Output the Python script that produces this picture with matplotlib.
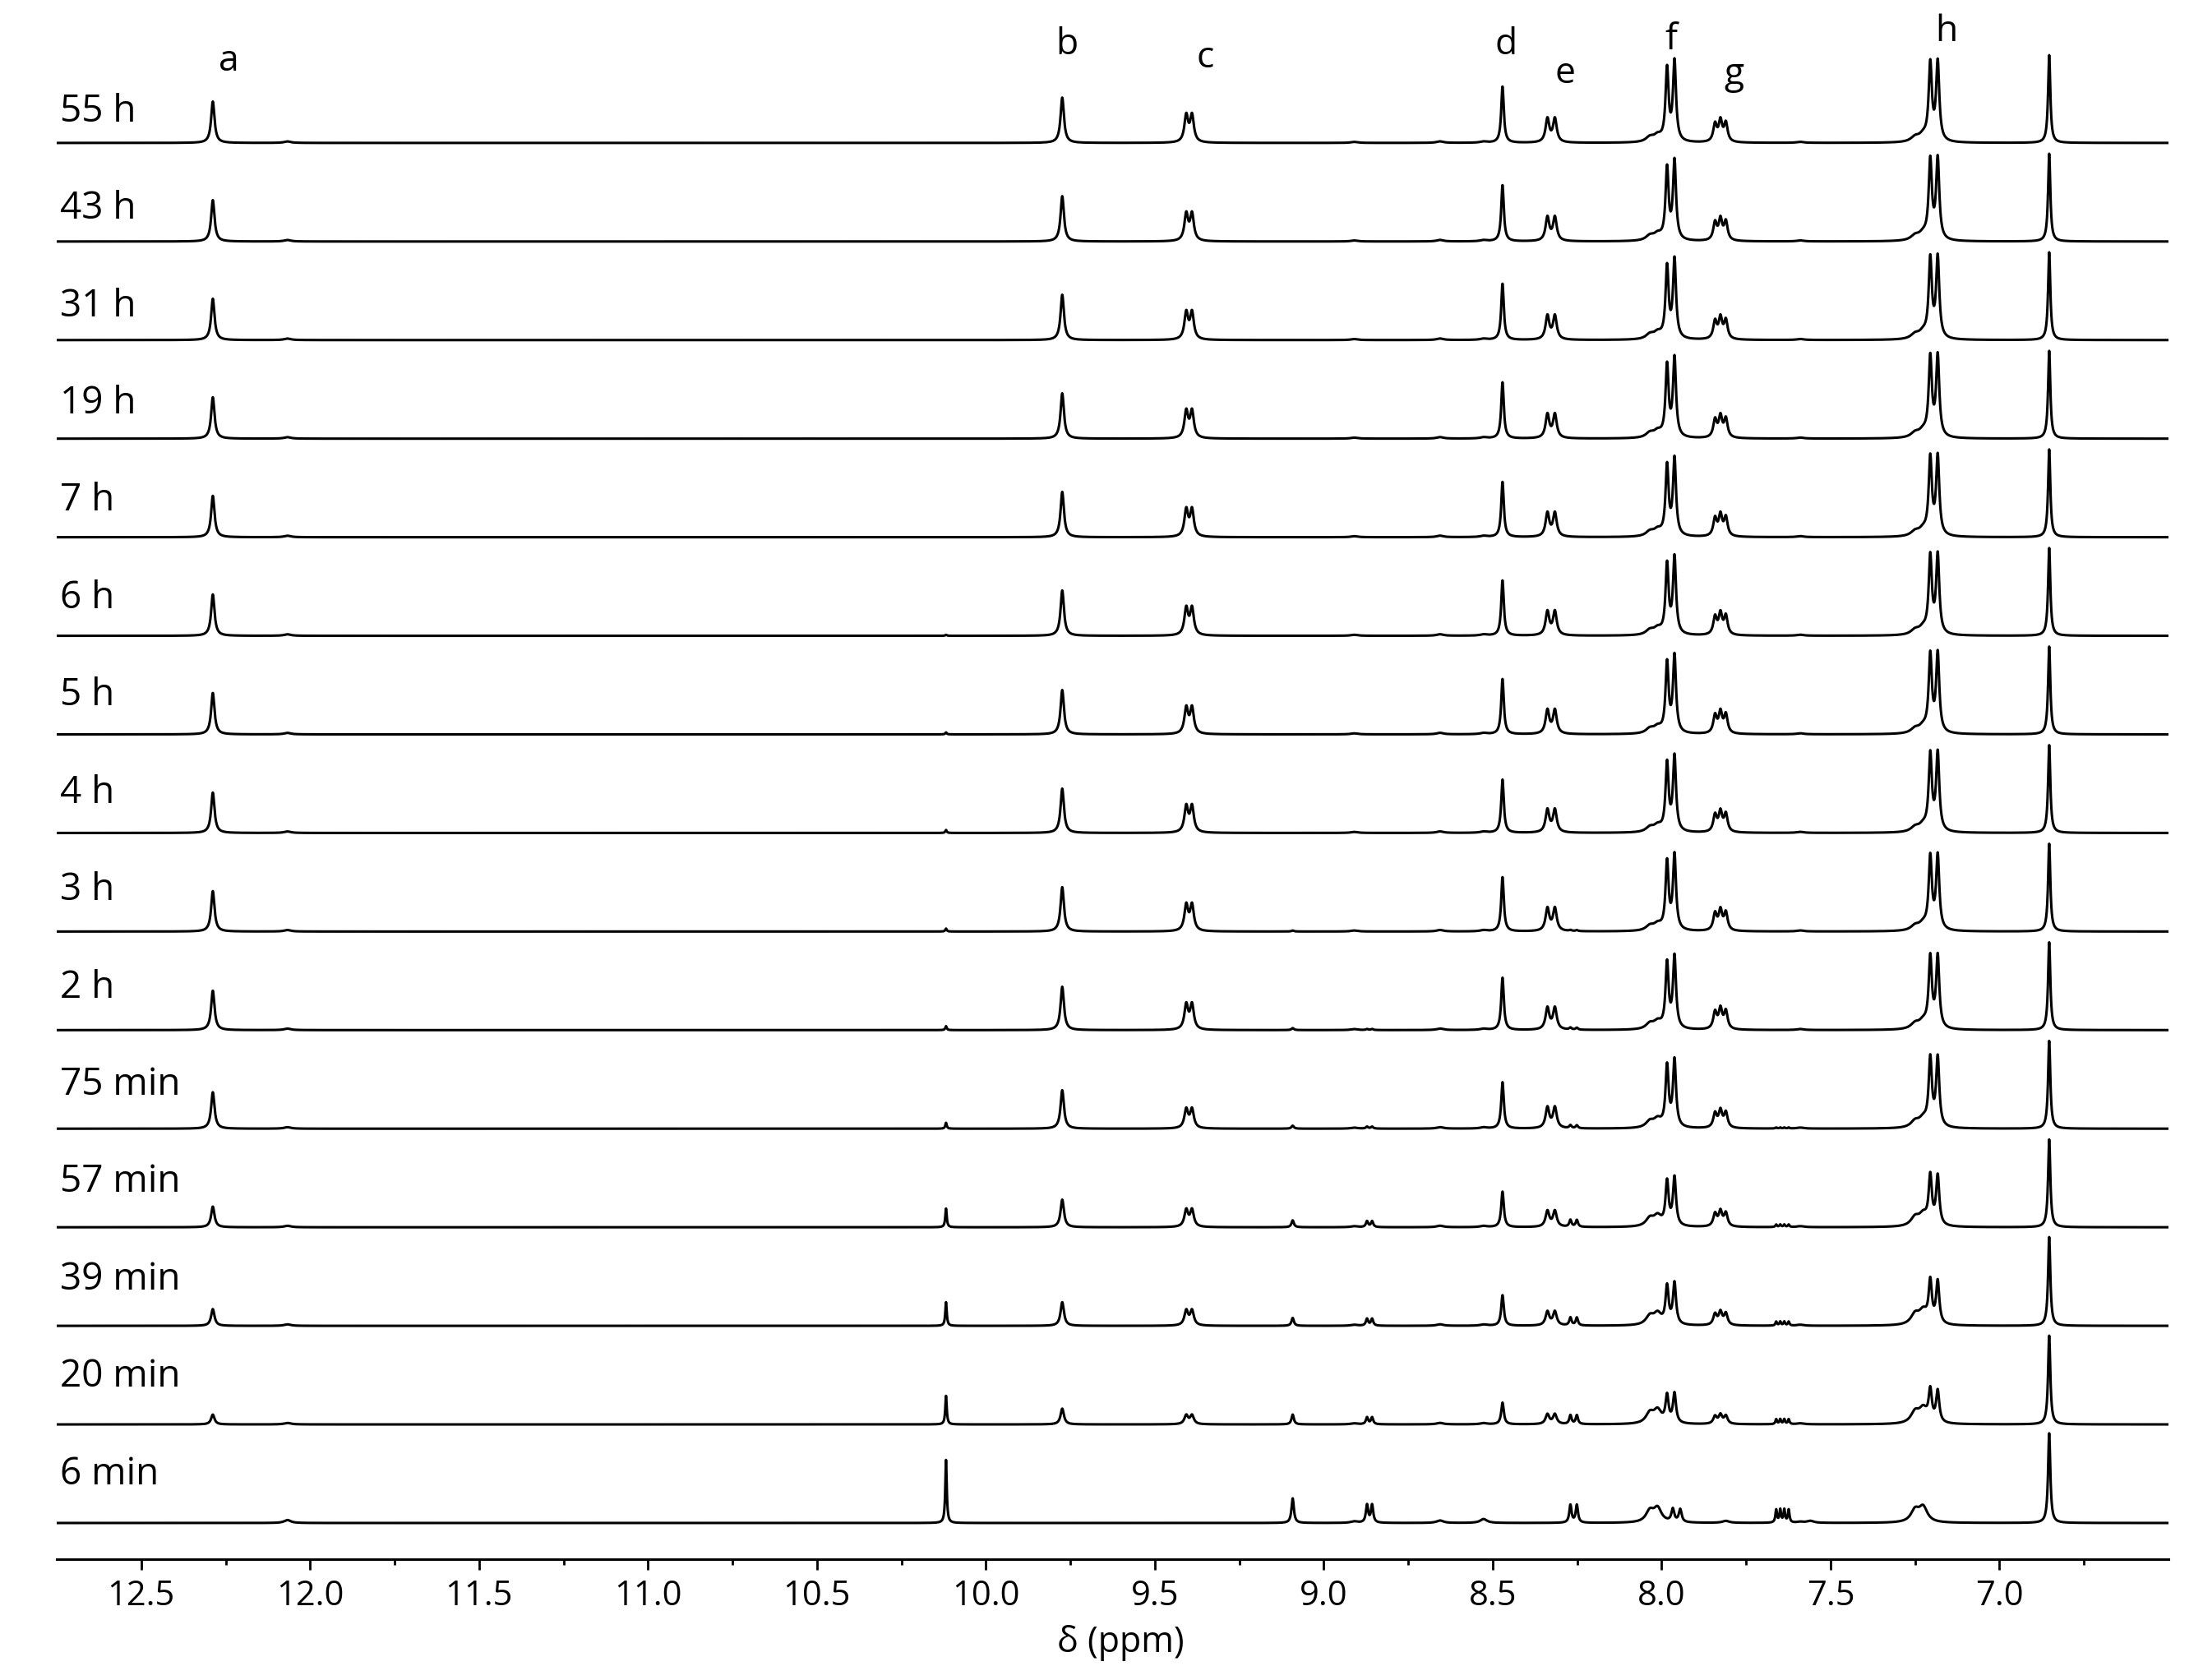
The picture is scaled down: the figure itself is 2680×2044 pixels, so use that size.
import numpy as np
import matplotlib.pyplot as plt

plt.rcParams['font.family'] = ['Open Sans', 'DejaVu Sans']

# spectra, listed from top to bottom
times = ['55 h', '43 h', '31 h', '19 h', '7 h', '6 h', '5 h', '4 h', '3 h', '2 h',
         '75 min', '57 min', '39 min', '20 min', '6 min']

# line positions (ppm) of each signal
a_lines = [12.288]
b_lines = [9.774]
c_lines = [9.407, 9.390]
d_lines = [8.471]
e_lines = [8.338, 8.316]
f_lines = [7.984, 7.962]
g_lines = [7.842, 7.826, 7.810]
h_lines = [7.205, 7.183]
ref_lines = [6.853]
s1012_lines = [10.118]
s909_lines = [9.092]
s886_lines = [8.872, 8.857]
s826_lines = [8.270, 8.251]
s796_lines = [7.967, 7.945]
s765_lines = [7.661, 7.649, 7.637, 7.624]
s802_lines = [8.035, 8.012]
s724_lines = [7.250, 7.226]
minor_lines = [12.067, 8.527, 8.656, 8.910, 7.590, 7.560, 7.810]

# relative intensity of the lines inside a signal
f_rel = [0.9, 1.0]
g_rel = [0.85, 1.0, 0.9]
h_rel = [0.97, 1.0]
s802_rel = [0.8, 1.0]
s724_rel = [0.8, 1.0]

# half widths (ppm)
a_w, b_w, c_w, d_w, e_w = 0.0060, 0.0060, 0.0066, 0.0046, 0.0066
f_w, g_w, h_w, ref_w = 0.0054, 0.0062, 0.0056, 0.0040
s1012_w, s909_w, s886_w, s826_w, s796_w, s765_w = 0.0026, 0.0042, 0.0040, 0.0040, 0.0050, 0.0028
s802_w, s724_w, minor_w = 0.014, 0.015, 0.012

# peak heights in each spectrum (top to bottom), unit = spacing between traces
a_amp = [0.42, 0.42, 0.42, 0.42, 0.42, 0.42, 0.42, 0.41, 0.41, 0.40, 0.37, 0.21, 0.17, 0.10, 0.00]
b_amp = [0.46, 0.46, 0.46, 0.46, 0.46, 0.46, 0.45, 0.45, 0.45, 0.44, 0.39, 0.28, 0.24, 0.16, 0.00]
c_amp = [0.27, 0.27, 0.27, 0.27, 0.27, 0.27, 0.26, 0.26, 0.26, 0.25, 0.19, 0.17, 0.15, 0.09, 0.00]
d_amp = [0.57, 0.57, 0.57, 0.57, 0.56, 0.56, 0.56, 0.54, 0.55, 0.53, 0.47, 0.36, 0.31, 0.22, 0.00]
e_amp = [0.24, 0.24, 0.24, 0.24, 0.24, 0.24, 0.24, 0.23, 0.23, 0.22, 0.21, 0.16, 0.14, 0.10, 0.00]
f_amp = [0.81, 0.80, 0.80, 0.80, 0.78, 0.78, 0.78, 0.76, 0.76, 0.73, 0.68, 0.49, 0.42, 0.30, 0.00]
g_amp = [0.21, 0.21, 0.21, 0.21, 0.21, 0.21, 0.21, 0.20, 0.20, 0.20, 0.17, 0.15, 0.13, 0.09, 0.00]
h_amp = [0.80, 0.82, 0.82, 0.82, 0.80, 0.80, 0.80, 0.79, 0.75, 0.73, 0.70, 0.50, 0.43, 0.32, 0.00]
ref_amp = [0.89, 0.89, 0.89, 0.89, 0.89, 0.89, 0.89, 0.89, 0.89, 0.89, 0.89, 0.89, 0.90, 0.90, 0.91]
s1012_amp = [0.00, 0.00, 0.00, 0.00, 0.00, 0.01, 0.02, 0.03, 0.03, 0.04, 0.06, 0.19, 0.24, 0.29, 0.64]
s909_amp = [0.00, 0.00, 0.00, 0.00, 0.00, 0.00, 0.00, 0.00, 0.01, 0.02, 0.03, 0.07, 0.08, 0.10, 0.25]
s886_amp = [0.00, 0.00, 0.00, 0.00, 0.00, 0.00, 0.00, 0.00, 0.00, 0.01, 0.02, 0.06, 0.07, 0.07, 0.18]
s826_amp = [0.00, 0.00, 0.00, 0.00, 0.00, 0.00, 0.00, 0.00, 0.01, 0.02, 0.03, 0.07, 0.08, 0.09, 0.18]
s796_amp = [0.00, 0.00, 0.00, 0.00, 0.00, 0.00, 0.00, 0.00, 0.00, 0.00, 0.00, 0.00, 0.00, 0.00, 0.13]
s765_amp = [0.00, 0.00, 0.00, 0.00, 0.00, 0.00, 0.00, 0.00, 0.00, 0.00, 0.01, 0.025, 0.04, 0.05, 0.13]
s802_amp = [0.06, 0.06, 0.06, 0.06, 0.06, 0.06, 0.06, 0.06, 0.06, 0.07, 0.08, 0.10, 0.11, 0.13, 0.14]
s724_amp = [0.06, 0.06, 0.06, 0.06, 0.06, 0.06, 0.06, 0.06, 0.06, 0.07, 0.08, 0.11, 0.13, 0.14, 0.15]
minor_amp = [0.015, 0.012, 0.015, 0.010, 0.010, 0.000, 0.000]
minor_amp_6min = [0.030, 0.040, 0.025, 0.015, 0.010, 0.020, 0.020]

# peak assignments
peak_names = ['a', 'b', 'c', 'd', 'e', 'f', 'g', 'h']
peak_name_x = [12.24, 9.76, 9.352, 8.461, 8.286, 7.972, 7.787, 7.157]
peak_name_y = [14.73, 14.90, 14.77, 14.90, 14.61, 14.95, 14.60, 15.03]

signals = [
    (a_lines, [1.0], a_w, a_amp),
    (b_lines, [1.0], b_w, b_amp),
    (c_lines, [1.0, 1.0], c_w, c_amp),
    (d_lines, [1.0], d_w, d_amp),
    (e_lines, [1.0, 1.0], e_w, e_amp),
    (f_lines, f_rel, f_w, f_amp),
    (g_lines, g_rel, g_w, g_amp),
    (h_lines, h_rel, h_w, h_amp),
    (ref_lines, [1.0], ref_w, ref_amp),
    (s1012_lines, [1.0], s1012_w, s1012_amp),
    (s909_lines, [1.0], s909_w, s909_amp),
    (s886_lines, [1.0, 1.0], s886_w, s886_amp),
    (s826_lines, [1.0, 1.0], s826_w, s826_amp),
    (s796_lines, [1.0, 1.0], s796_w, s796_amp),
    (s765_lines, [1.0, 1.0, 1.0, 1.0], s765_w, s765_amp),
    (s802_lines, s802_rel, s802_w, s802_amp),
    (s724_lines, s724_rel, s724_w, s724_amp),
]


def lorentz(x, x0, w):
    return 1.0 / (1.0 + ((x - x0) / w) ** 2)


ppm = np.linspace(12.75, 6.5, 12501)
n = len(times)

fig = plt.figure(figsize=(26.8, 20.44), dpi=100)
ax = fig.add_axes([69 / 2680, 147 / 2044, 2569 / 2680, 1897 / 2044])

for j, label in enumerate(times):
    y = np.zeros_like(ppm)
    for lines, rel, w, amp in signals:
        for pos, r in zip(lines, rel):
            y += amp[j] * r * lorentz(ppm, pos, w)
    small = minor_amp_6min if j == n - 1 else minor_amp
    for pos, hgt in zip(minor_lines, small):
        y += hgt * lorentz(ppm, pos, minor_w)
    k = n - 1 - j
    ax.plot(ppm, y + k, color='black', lw=2.2)
    ax.text(12.74, k * 0.9875 + 0.394, label, fontsize=33, ha='left', va='baseline')

for name, px, py in zip(peak_names, peak_name_x, peak_name_y):
    ax.text(px, py, name, fontsize=32, ha='center', va='baseline')

ax.set_xlim(12.75, 6.5)
ax.set_ylim(-0.367, 15.45)
for side in ['left', 'right', 'top']:
    ax.spines[side].set_visible(False)
ax.spines['bottom'].set_linewidth(2.2)
ax.set_yticks([])
ax.set_xticks(np.arange(7.0, 12.51, 0.5))
ax.set_xticks(np.arange(6.75, 12.5, 0.5), minor=True)
ax.tick_params(axis='x', which='major', direction='out', length=9.5, width=2, labelsize=30, pad=8)
ax.tick_params(axis='x', which='minor', direction='out', length=5, width=2)
ax.patch.set_visible(False)

fig.text(1363 / 2680, 1 - 1999 / 2044, 'δ (ppm)', fontsize=31, ha='center', va='center')

fig.savefig('out.png', dpi=100)
